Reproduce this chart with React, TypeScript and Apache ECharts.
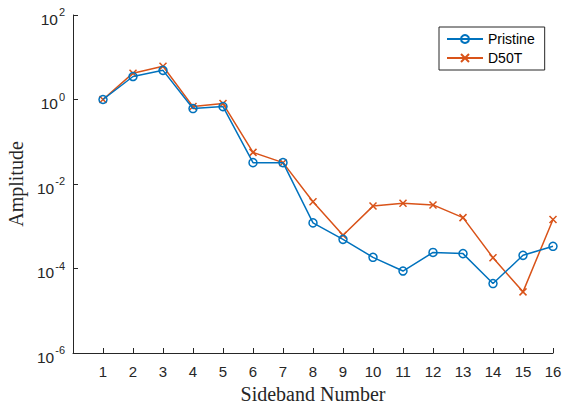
import React, { useEffect, useRef } from "react";
import * as echarts from "echarts";

const sidebands = [1, 2, 3, 4, 5, 6, 7, 8, 9, 10, 11, 12, 13, 14, 15, 16];
const pristine = [1.0, 3.5, 4.9, 0.61, 0.68, 0.032, 0.032, 0.0012, 0.00049, 0.000184, 0.000087, 0.00024, 0.000225, 0.000044, 0.000205, 0.000335];
const d50t = [1.0, 4.2, 6.1, 0.68, 0.8, 0.056, 0.032, 0.0038, 0.00061, 0.003, 0.0035, 0.0032, 0.0016, 0.00018, 0.000028, 0.00145];
const seriesNames = ["Pristine", "D50T"];
const xTicks = sidebands;

const BLUE = "#0072BD";
const ORANGE = "#D95319";
const AX = "#262626";
const SANS = "'Liberation Sans', Arial, Helvetica, sans-serif";
const SERIF = "'Liberation Serif', 'Times New Roman', serif";

export default function App() {
  const ref = useRef<HTMLDivElement>(null);
  useEffect(() => {
    if (!ref.current) return;
    const chart = echarts.init(ref.current, null, { renderer: "svg" });
    chart.setOption({
      animation: false,
      backgroundColor: "#fff",
      grid: { left: 73, right: 9, top: 15, bottom: 52, containLabel: false, outerBoundsMode: "none" },
      legend: {
        orient: "vertical",
        left: 439,
        top: 27,
        padding: [5, 10, 5, 7],
        itemGap: 5,
        itemWidth: 36,
        itemHeight: 10,
        borderColor: AX,
        borderWidth: 1,
        backgroundColor: "#fff",
        textStyle: { fontFamily: SANS, fontSize: 14, color: "#000" },
        data: seriesNames,
      },
      xAxis: {
        type: "value",
        min: 0,
        max: 16,
        interval: 1,
        name: "Sideband Number",
        nameLocation: "middle",
        nameGap: 30,
        nameTextStyle: { fontFamily: SERIF, fontSize: 20, color: AX },
        axisLine: { show: true, onZero: false, lineStyle: { color: AX, width: 1 } },
        axisTick: { show: true, inside: true, length: 5, lineStyle: { color: AX } },
        axisLabel: {
          fontFamily: SANS,
          fontSize: 15,
          color: AX,
          margin: 11,
          formatter: (v: number) => (xTicks.indexOf(v) >= 0 ? String(v) : ""),
        },
        splitLine: { show: false },
      },
      yAxis: {
        type: "log",
        logBase: 10,
        min: 1e-6,
        max: 1e2,
        interval: 2,
        name: "Amplitude",
        nameLocation: "middle",
        nameGap: 43,
        nameTextStyle: { fontFamily: SERIF, fontSize: 20, color: AX },
        axisLine: { show: true, lineStyle: { color: AX, width: 1 } },
        axisTick: { show: true, inside: true, length: 5, lineStyle: { color: AX } },
        axisLabel: {
          margin: 8,
          color: AX,
          formatter: (v: number) => {
            const e = Math.round(Math.log10(v));
            return "{b|10}{s|" + e + "}";
          },
          rich: {
            b: { fontFamily: SANS, fontSize: 15.5, color: AX, padding: [8, 0, 0, 0] },
            s: { fontFamily: SANS, fontSize: 11, color: AX, padding: [0, 0, 6, 1] },
          },
        },
        splitLine: { show: false },
      },
      series: [
        {
          name: seriesNames[0],
          type: "line",
          data: sidebands.map((x, i) => [x, pristine[i]]),
          symbol: "circle",
          symbolSize: 8,
          showAllSymbol: true,
          lineStyle: { color: BLUE, width: 1.5 },
          itemStyle: { color: "rgba(255,255,255,0)", borderColor: BLUE, borderWidth: 1.5 },
          z: 3,
        },
        {
          name: seriesNames[1],
          type: "line",
          data: sidebands.map((x, i) => [x, d50t[i]]),
          symbol: "path://M0,0L10,10M10,0L0,10",
          symbolSize: 7,
          showAllSymbol: true,
          lineStyle: { color: ORANGE, width: 1.5 },
          itemStyle: { color: ORANGE, borderColor: ORANGE, borderWidth: 1.5 },
          z: 2,
        },
      ],
    });
    return () => chart.dispose();
  }, []);
  return <div ref={ref} style={{ width: 562, height: 405, position: "absolute", left: 0, top: 0 }} />;
}
